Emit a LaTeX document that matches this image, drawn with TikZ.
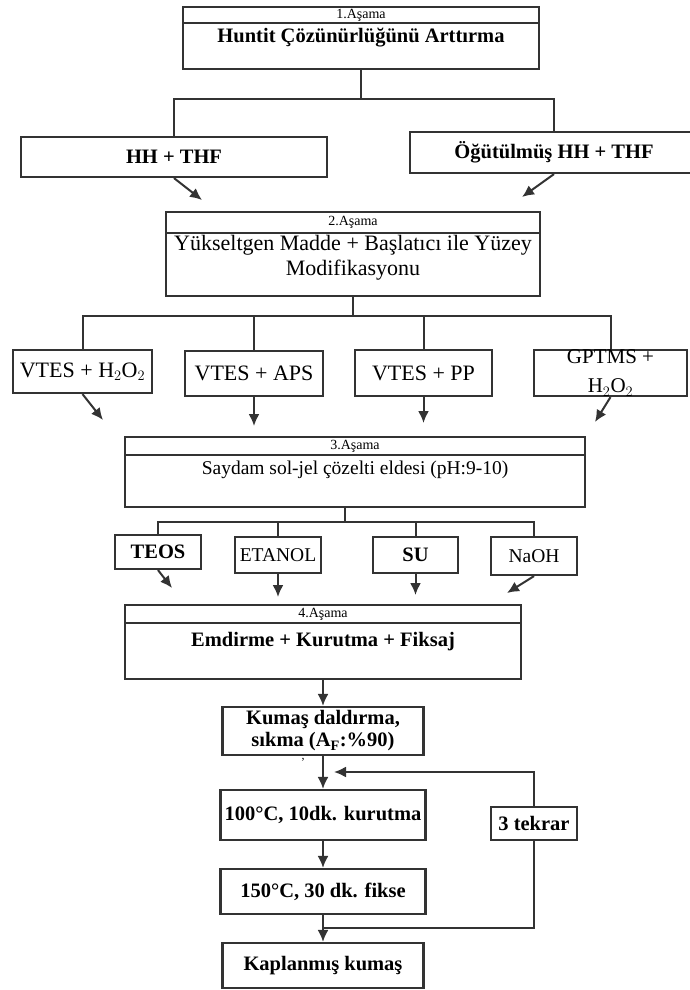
\documentclass[tikz,border=0pt]{standalone}
\usepackage{fontspec}
\setmainfont{Liberation Serif}
\usetikzlibrary{arrows.meta}

\begin{document}
\begin{tikzpicture}[x=1pt,y=-1pt,>={Latex[length=12pt,width=11pt]},
        kutu/.style={draw=black!80,line width=2.2pt,inner sep=0pt,align=center,font=\bfseries\fontsize{20.5}{24}\selectfont},
        ince/.style={kutu,font=\fontsize{19.5}{23}\selectfont},
        baslik/.style={kutu,font=\fontsize{14}{15}\selectfont},
        yazi/.style={inner sep=0pt,align=center,font=\bfseries\fontsize{20.5}{24}\selectfont},
        hat/.style={draw=black!80,line width=2pt}]
        \useasboundingbox(0,0)rectangle(690,990);
        % 1.Asama
        \node[baslik,minimum width=356,minimum height=16](a1)at(361,15){1.Aşama};
        \node[kutu,minimum width=356,minimum height=46](s1)at(361,46){};
        \node[yazi](s1y)at(361,38){Huntit Çözünürlüğünü Arttırma};
        \node[kutu,minimum width=306,minimum height=40](hh)at(174,157){HH + THF};
        \node[kutu,minimum width=288,minimum height=41](ogut)at(554,152.5){Öğütülmüş HH + THF};
        \coordinate(k1)at(361,99);
        \coordinate(u1)at(202,200);
        \coordinate(u2)at(522,197);
        \draw[hat](s1.south)--(k1);
        \draw[hat](hh.north)|-(k1)-|(ogut.north);
        \draw[hat,->](hh.south)--(u1);
        \draw[hat,->](ogut.south)--(u2);
        % 2.Asama
        \node[baslik,minimum width=374,minimum height=21](a2)at(353,222.5){2.Aşama};
        \node[kutu,minimum width=374,minimum height=63](s2)at(353,264.5){};
        \node[yazi,font=\fontsize{22}{25}\selectfont](s2y)at(353,258){Yükseltgen Madde + Başlatıcı ile Yüzey\\Modifikasyonu};
        \node[ince,font=\fontsize{22}{25}\selectfont,minimum width=139,minimum height=43](h2o2)at(82.5,371.5){VTES + H$_2$O$_2$};
        \node[ince,font=\fontsize{22}{25}\selectfont,minimum width=138,minimum height=45](aps)at(254,373.5){VTES + APS};
        \node[ince,font=\fontsize{22}{25}\selectfont,minimum width=137,minimum height=46](pp)at(423.5,373){VTES + PP};
        \node[ince,minimum width=153,minimum height=46,font=\fontsize{21}{29}\selectfont](gptms)at(610.5,373){GPTMS +\\H$_2$O$_2$};
        \coordinate(k2)at(353,316);
        \draw[hat](s2.south)--(k2);
        \draw[hat](h2o2.north)|-(k2)-|(gptms.north);
        \draw[hat](aps.north)--(aps.north|-k2);
        \draw[hat](pp.north)--(pp.north|-k2);
        \coordinate(u3)at(103,420);
        \coordinate(u4)at(254,426);
        \coordinate(u5)at(423.5,423);
        \coordinate(u6)at(595,422);
        \foreach \a/\b in {h2o2/u3,aps/u4,pp/u5,gptms/u6}
            {
                \draw[hat,->](\a.south)--(\b);
            }
        % 3.Asama
        \node[baslik,minimum width=460,minimum height=18](a3)at(355,446){3.Aşama};
        \node[kutu,minimum width=460,minimum height=52](s3)at(355,481){};
        \node[yazi,font=\fontsize{19.5}{23}\selectfont](s3y)at(355,470){Saydam sol-jel çözelti eldesi (pH:9-10)};
        \node[kutu,minimum width=86,minimum height=34](teos)at(158,552){TEOS};
        \node[ince,minimum width=86,minimum height=36](etanol)at(278,555){ETANOL};
        \node[kutu,minimum width=85,minimum height=36](su)at(415.5,555){SU};
        \node[ince,minimum width=86,minimum height=38](naoh)at(534,556){NaOH};
        \coordinate(k3)at(345,522);
        \draw[hat](k3|-s3.south)--(k3);
        \draw[hat](teos.north)|-(k3)-|(naoh.north);
        \draw[hat](etanol.north)--(etanol.north|-k3);
        \draw[hat](su.north)--(su.north|-k3);
        \coordinate(u7)at(172,588);
        \coordinate(u8)at(278,597);
        \coordinate(u9)at(415.5,595);
        \coordinate(u10)at(507,593);
        \foreach \a/\b in {teos/u7,etanol/u8,su/u9,naoh/u10}
            {
                \draw[hat,->](\a.south)--(\b);
            }
        % 4.Asama
        \node[baslik,minimum width=396,minimum height=18](a4)at(323,614){4.Aşama};
        \node[kutu,minimum width=396,minimum height=56](s4)at(323,651){};
        \node[yazi](s4y)at(323,642){Emdirme + Kurutma + Fiksaj};
        \node[kutu,minimum width=201,minimum height=48,font=\bfseries\fontsize{20.5}{22}\selectfont](kumas)at(323,731){Kumaş daldırma,\\sıkma (A\textsubscript{F}:\%90)};
        \node[font=\fontsize{12}{14}\selectfont,inner sep=0pt](virgul)at(303,760){,};
        \node[kutu,minimum width=205,minimum height=50](k100)at(323,815){100°C, 10dk. kurutma};
        \node[kutu,minimum width=205,minimum height=45](k150)at(323,891.5){150°C, 30 dk. fikse};
        \node[kutu,minimum width=201,minimum height=45](kap)at(323,965.5){Kaplanmış kumaş};
        \node[kutu,minimum width=86,minimum height=33](tekrar)at(534,823.5){3 tekrar};
        \coordinate(k4)at(334,772);
        \coordinate(k5)at(323,928);
        \draw[hat,->](s4.south)--(kumas.north);
        \draw[hat,->](kumas.south)--(k100.north);
        \draw[hat,->](k100.south)--(k150.north);
        \draw[hat,->](k150.south)--(kap.north);
        \draw[hat,->](tekrar.north)|-(k4);
        \draw[hat](tekrar.south)|-(k5);
    \end{tikzpicture}
\end{document}
